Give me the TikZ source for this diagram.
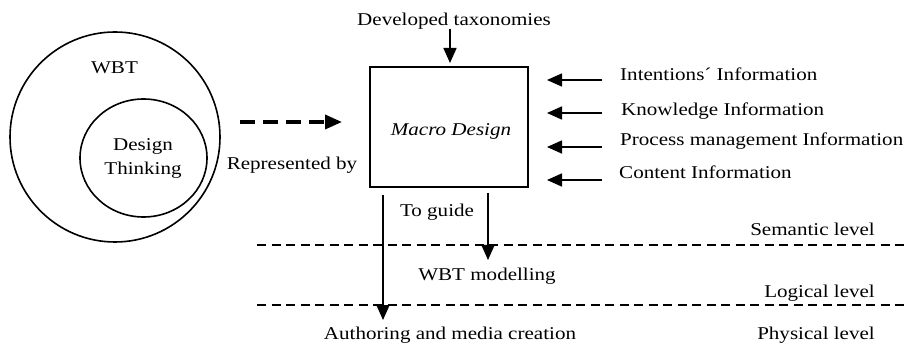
\documentclass[tikz,border=0pt]{standalone}
\usepackage{fontspec}
\setmainfont{Liberation Serif}[FakeStretch=1.17]
\usetikzlibrary{arrows.meta,shapes.geometric}
\begin{document}
\begin{tikzpicture}[x=1pt,y=-1pt,
  font=\fontsize{18}{22}\selectfont,
  lbl/.style={inner sep=0pt},
  arr/.style={-{Triangle[length=15pt,width=13pt]}, line width=1.6pt},
  lvl/.style={dash pattern=on 9pt off 5.5pt, line width=1.3pt},
  ring/.style={draw, line width=1.6pt, inner sep=0pt}]
\useasboundingbox (0,0) rectangle (907,347);
% circles
\node[ring, circle, minimum size=210pt] (wbt) at (115,137) {};
\node[ring, ellipse, minimum width=127pt, minimum height=118pt] (dt) at (143.5,158) {};
\node[lbl, anchor=base] (wbtl) at (114.5,74) {WBT};
\node[lbl, align=center, font=\fontsize{18}{24}\selectfont] (dtl) at (143,158) {Design\\Thinking};
% dashed arrow
\coordinate (da1) at (240,122);
\coordinate (da2) at (342,122);
\draw[line width=3.5pt, dash pattern=on 15pt off 8pt, -{Triangle[length=17pt,width=14pt]}] (da1) -- (da2);
\node[lbl, anchor=base] (rep) at (292,170) {Represented by};
% box
\node[draw, line width=2pt, minimum width=158pt, minimum height=120pt, inner sep=0pt] (box) at (449,127) {};
\node[lbl, font=\fontsize{18}{22}\selectfont\itshape] (macro) at (451,131) {Macro Design};
% top
\node[lbl, anchor=base] (dev) at (454,25.7) {Developed taxonomies};
\coordinate (t1) at (450,29);
\draw[arr, shorten >=3pt] (t1) -- (box.north -| t1);
% right inputs
\node[lbl, anchor=base west] (i1) at (620,81) {Intentions´ Information};
\node[lbl, anchor=base west] (i2) at (621,116) {Knowledge Information};
\node[lbl, anchor=base west] (i3) at (620,146) {Process management Information};
\node[lbl, anchor=base west] (i4) at (619,179) {Content Information};
\coordinate (a1) at (602,80);  \coordinate (b1) at (547,80);
\coordinate (a2) at (602,113); \coordinate (b2) at (547,113);
\coordinate (a3) at (602,147); \coordinate (b3) at (547,147);
\coordinate (a4) at (602,180); \coordinate (b4) at (547,180);
\draw[arr] (a1) -- (b1);
\draw[arr] (a2) -- (b2);
\draw[arr] (a3) -- (b3);
\draw[arr] (a4) -- (b4);
% lower arrows
\coordinate (l1) at (383,195); \coordinate (l2) at (383,320);
\coordinate (r1) at (488,193); \coordinate (r2) at (488,260);
\draw[arr] (l1) -- (l2);
\draw[arr] (r1) -- (r2);
\node[lbl, anchor=base] (guide) at (437,217) {To guide};
\node[lbl, anchor=base] (model) at (487,280) {WBT modelling};
\node[lbl, anchor=base] (auth) at (450,339) {Authoring and media creation};
% level lines
\coordinate (s1) at (257,245); \coordinate (s2) at (907,245);
\coordinate (g1) at (257,305); \coordinate (g2) at (907,305);
\draw[lvl] (s1) -- (s2);
\draw[lvl] (g1) -- (g2);
\node[lbl, anchor=base east] (sem) at (875,236) {Semantic level};
\node[lbl, anchor=base east] (log) at (875,297) {Logical level};
\node[lbl, anchor=base east] (phy) at (875,339) {Physical level};
\end{tikzpicture}
\end{document}
